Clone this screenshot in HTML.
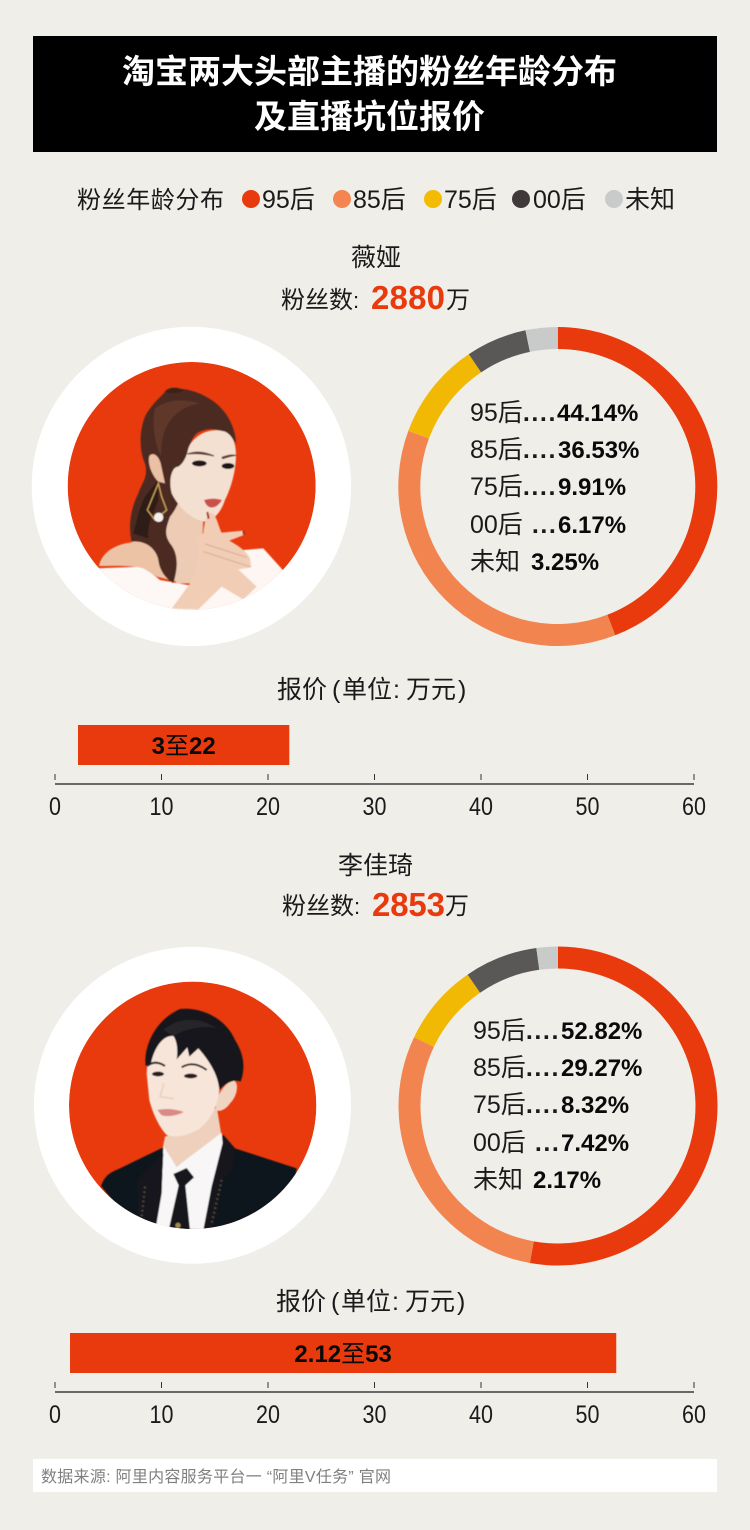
<!DOCTYPE html>
<html lang="zh">
<head>
<meta charset="utf-8">
<title>淘宝两大头部主播的粉丝年龄分布及直播坑位报价</title>
<style>
html,body{margin:0;padding:0;background:#efeee9;}
body{width:750px;height:1530px;overflow:hidden;}
svg{display:block;}
text{font-family:"Liberation Sans","Noto Sans CJK SC",sans-serif;fill:#1a1a1a;}
.cn{font-size:24px;}
.lg{font-size:25px;}
.dots{letter-spacing:1.6px;font-weight:700;}
.val{font-size:24px;font-weight:700;fill:#0a0a0a;}
.num{font-size:33px;font-weight:700;fill:#e93a0e;}
</style>
</head>
<body>
<svg id="page" xmlns="http://www.w3.org/2000/svg" width="750" height="1530" viewBox="0 0 750 1530">
  <defs>
    <clipPath id="clip-a"><circle cx="485" cy="498" r="372"/></clipPath>
    <clipPath id="clip-b"><circle cx="488" cy="496" r="371"/></clipPath>
    <filter id="soft" x="-10%" y="-10%" width="120%" height="120%"><feGaussianBlur stdDeviation="1.8"/></filter>
  </defs>
  <rect width="750" height="1530" fill="#efeee9"/>

  <g>
    <rect x="33" y="36" width="684" height="116" fill="#000"/>
    <text x="369.5" y="83" text-anchor="middle" font-size="33" font-weight="700" style="fill:#fff">淘宝两大头部主播的粉丝年龄分布</text>
    <text x="369.5" y="128" text-anchor="middle" font-size="33" font-weight="700" style="fill:#fff">及直播坑位报价</text>
  </g>

  <g>
    <text class="cn" x="77" y="208" textLength="147">粉丝年龄分布</text>
    <circle cx="251" cy="199" r="9" fill="#e93a0e"/>
    <text class="lg" x="262" y="208">95后</text>
    <circle cx="342" cy="199" r="9" fill="#f48550"/>
    <text class="lg" x="353" y="208">85后</text>
    <circle cx="433" cy="199" r="9" fill="#f3bb02"/>
    <text class="lg" x="444" y="208">75后</text>
    <circle cx="521" cy="199" r="9" fill="#3f3a39"/>
    <text class="lg" x="533" y="208">00后</text>
    <circle cx="614" cy="199" r="9" fill="#c9caca"/>
    <text class="lg" x="625" y="208">未知</text>
  </g>

  <!-- Section 1 -->
  <text class="lg" x="376" y="266" text-anchor="middle">薇娅</text>
  <text class="cn" x="281" y="308">粉丝数<tspan font-size="22">:</tspan></text>
  <text class="num" x="371" y="309" textLength="74">2880</text>
  <text class="cn" x="446" y="308">万</text>

  <g>
    <circle cx="191.4" cy="486.4" r="159.7" fill="#fff"/>
    <g transform="translate(30,320) scale(0.33333)">
      <g clip-path="url(#clip-a)">
        <circle cx="485" cy="498" r="372" fill="#e93a0e"/>
        <g filter="url(#soft)">
          <path d="M195 745 L340 740 L390 780 L500 800 L520 880 L300 900 L150 800Z" fill="#fdf8f5"/>
          <path d="M640 690 L700 685 L760 752 L700 830 L600 880 L500 880 L560 790Z" fill="#fdf6f2"/>
          <path d="M207 738 C215 700 250 675 300 668 L355 652 L420 700 L440 785 L380 770 L340 745 C300 735 250 738 207 738Z" fill="#edc3a6"/>
          <path d="M420 530 L400 620 L400 720 L440 790 L510 790 L520 600Z" fill="#eecbb4"/>
          <path d="M430 205 C500 205 560 240 590 285 C610 315 618 350 618 370 C590 330 540 315 500 340 C480 360 470 400 465 440 C470 500 445 560 420 590 C410 620 400 640 420 670 C445 700 445 740 430 790 C415 780 390 760 385 720 C380 690 350 660 305 665 C295 620 300 570 325 520 C340 480 355 470 345 430 C330 400 325 340 345 290 C365 250 400 225 405 215 Z" fill="#4b2b20"/>
          <path d="M375 265 C410 240 455 235 510 250 C470 255 425 280 405 330 C392 365 392 395 395 410 C375 380 365 310 375 265Z" fill="#5f392b"/>
          <path d="M405 215 C415 200 445 200 462 212 C440 222 420 222 405 215Z" fill="#3a2018"/>
          <path d="M310 640 C320 600 330 560 345 530 L385 480 L385 540 C365 590 350 620 355 655Z" fill="#2f1b14"/>
          <path d="M358 408 C368 395 385 405 392 430 L405 490 L385 485 C365 465 352 430 358 408Z" fill="#ecc0a4"/>
          <path d="M475 385 C490 345 540 320 585 335 C605 345 618 365 618 405 C618 450 605 500 585 540 C572 580 550 600 525 605 C490 600 450 570 425 520 C415 480 425 440 445 440 C460 430 470 410 475 385Z" fill="#f4e0d1"/>
          <path d="M472 402 Q510 388 552 408 Q510 398 472 402Z M576 412 Q600 402 618 406 Q600 408 578 416Z" fill="#5a3a30" stroke="#5a3a30" stroke-width="3"/>
          <ellipse cx="508" cy="430" rx="22" ry="9" fill="#1c1518"/>
          <ellipse cx="594" cy="438" rx="19" ry="9" fill="#1c1518"/>
          <path d="M522 540 Q550 532 576 540 Q560 566 540 562 Q528 558 522 540Z" fill="#c9514a"/>
          <path d="M520 640 C522 610 530 580 545 578 C560 585 565 620 575 638 L640 632 L642 645 L598 662 C630 680 650 695 660 715 L664 742 L625 748 L680 800 L640 838 L575 800 L505 868 L425 866 L480 790 C500 750 505 720 505 700 L498 650Z" fill="#f1cdb6"/>
          <path d="M525 672 L650 712 M520 695 L660 740" stroke="#d8a78f" stroke-width="3" fill="none"/>
          <path d="M640 632 L642 645 M532 576 L536 596" stroke="#a8262a" stroke-width="6"/>
          <path d="M385 490 L352 570 L375 600 L410 570 L395 530Z" fill="none" stroke="#c9a35a" stroke-width="4"/>
          <circle cx="386" cy="592" r="14" fill="#f5f1ec"/>
        </g>
      </g>
    </g>
  </g>

  <g id="donut-viya"></g>
  <g>
    <text class="lg" x="470" y="421">95后<tspan class="dots">....</tspan></text>
    <text class="val" x="557" y="421">44.14%</text>
    <text class="lg" x="470" y="458">85后<tspan class="dots">....</tspan></text>
    <text class="val" x="558" y="458">36.53%</text>
    <text class="lg" x="470" y="495">75后<tspan class="dots">....</tspan></text>
    <text class="val" x="558" y="495">9.91%</text>
    <text class="lg" x="470" y="533">00后<tspan class="dots" dx="9">...</tspan></text>
    <text class="val" x="558" y="533">6.17%</text>
    <text class="lg" x="470" y="570">未知</text>
    <text class="val" x="531" y="570">3.25%</text>
  </g>

  <text class="lg" y="698"><tspan x="277">报价</tspan><tspan x="332">(</tspan><tspan x="342">单位</tspan><tspan x="393">:</tspan><tspan x="406">万元</tspan><tspan x="458">)</tspan></text>
  <g id="price-viya"></g>

  <!-- Section 2 -->
  <text class="lg" x="375.5" y="874" text-anchor="middle">李佳琦</text>
  <text class="cn" x="282" y="914">粉丝数<tspan font-size="22">:</tspan></text>
  <text class="num" x="372" y="916" textLength="73">2853</text>
  <text class="cn" x="445" y="914">万</text>

  <g>
    <circle cx="192.5" cy="1105.3" r="158.5" fill="#fff"/>
    <g transform="translate(30,940) scale(0.33333)">
      <g clip-path="url(#clip-b)">
        <circle cx="488" cy="496" r="371" fill="#e93a0e"/>
        <g filter="url(#soft)">
          <path d="M405 590 L398 625 L440 690 L575 590 L560 500 L500 560Z" fill="#eed0bc"/>
          <path d="M213 738 C225 705 240 698 270 685 L400 622 L440 680 L580 585 L615 625 L800 685 L790 760 L680 840 L520 875 L380 870 L280 820Z" fill="#10151a"/>
          <path d="M400 618 L440 680 L575 578 L578 610 L545 740 L520 870 L378 860 L395 760Z" fill="#f8f6f6"/>
          <path d="M430 702 L470 684 L492 712 L466 736 L480 870 L416 870 L446 736Z" fill="#15181c"/>
          <path d="M400 640 L320 720 L325 830 L378 850 L395 740Z" fill="#14191e"/>
          <path d="M580 585 L615 625 L605 690 L580 720 L550 860 L522 868 L545 740 L578 610Z" fill="#14191e"/>
          <path d="M345 740 L335 830 M575 720 L545 850" stroke="#4c4538" stroke-width="7" stroke-dasharray="5 9" fill="none"/>
          <circle cx="444" cy="856" r="8" fill="#a18a4e"/>
          <path d="M555 490 C570 450 590 425 612 422 C628 430 622 470 600 490 C590 505 575 515 560 512Z" fill="#f0d4c2"/>
          <path d="M350 400 C352 340 380 285 430 285 C500 300 560 350 570 430 C568 480 552 530 510 565 C480 585 440 595 410 585 C385 560 365 510 358 480Z" fill="#f7e5d9"/>
          <path d="M347 378 C340 320 375 240 450 207 C520 200 590 240 615 300 C640 340 648 380 632 425 C615 418 590 425 568 450 C565 410 545 370 505 325 L478 350 L472 322 L440 358 C445 330 440 300 430 288 C395 285 370 330 362 375Z" fill="#14161b"/>
          <path d="M400 270 C440 235 500 225 560 265 C520 255 470 265 430 288Z" fill="#26272c"/>
          <path d="M352 378 Q375 358 405 378 M455 382 Q490 360 530 390" stroke="#2a2023" stroke-width="6" fill="none"/>
          <ellipse cx="384" cy="402" rx="18" ry="7" fill="#2a1e1e"/>
          <ellipse cx="482" cy="408" rx="20" ry="7" fill="#2a1e1e"/>
          <path d="M382 510 Q420 502 462 516 Q425 534 395 526Z" fill="#d98a86"/>
          <path d="M402 430 L390 470 L432 476" stroke="#e8cdbc" stroke-width="4" fill="none"/>
        </g>
      </g>
    </g>
  </g>

  <g id="donut-li"></g>
  <g>
    <text class="lg" x="473" y="1039">95后<tspan class="dots">....</tspan></text>
    <text class="val" x="561" y="1039">52.82%</text>
    <text class="lg" x="473" y="1076">85后<tspan class="dots">....</tspan></text>
    <text class="val" x="561" y="1076">29.27%</text>
    <text class="lg" x="473" y="1113">75后<tspan class="dots">....</tspan></text>
    <text class="val" x="561" y="1113">8.32%</text>
    <text class="lg" x="473" y="1151">00后<tspan class="dots" dx="9">...</tspan></text>
    <text class="val" x="561" y="1151">7.42%</text>
    <text class="lg" x="473" y="1188">未知</text>
    <text class="val" x="533" y="1188">2.17%</text>
  </g>

  <text class="lg" y="1310"><tspan x="276">报价</tspan><tspan x="331">(</tspan><tspan x="341">单位</tspan><tspan x="392">:</tspan><tspan x="405">万元</tspan><tspan x="457">)</tspan></text>
  <g id="price-li"></g>

  <g>
    <rect x="33" y="1459" width="684" height="33" fill="#fff"/>
    <text x="41" y="1482" font-size="16" textLength="350" style="fill:#808080">数据来源: 阿里内容服务平台一 “阿里V任务” 官网</text>
  </g>
</svg>
<script>
var ageGroups = ['95后', '85后', '75后', '00后', '未知'];
var ageColors = ['#e93a0e', '#f28450', '#f1b904', '#5a5856', '#c9caca'];
var viyaShares = [44.14, 36.53, 9.91, 6.17, 3.25];
var liShares = [52.82, 29.27, 8.32, 7.42, 2.17];
var priceTicks = [0, 10, 20, 30, 40, 50, 60];
var viyaPriceRange = [2.16, 22];
var liPriceRange = [1.41, 52.7];
var viyaPriceLabel = ['3', '至', '22'];
var liPriceLabel = ['2.12', '至', '53'];

var SVG_NS = 'http://www.w3.org/2000/svg';

function arcPath(cx, cy, rOuter, rInner, a0, a1) {
  var large = (a1 - a0) > Math.PI ? 1 : 0;
  function pt(r, a) { return (cx + r * Math.sin(a)).toFixed(2) + ' ' + (cy - r * Math.cos(a)).toFixed(2); }
  return 'M' + pt(rOuter, a0) + ' A' + rOuter + ' ' + rOuter + ' 0 ' + large + ' 1 ' + pt(rOuter, a1) +
         ' L' + pt(rInner, a1) + ' A' + rInner + ' ' + rInner + ' 0 ' + large + ' 0 ' + pt(rInner, a0) + 'Z';
}

function drawDonut(groupId, values, cx, cy, rOuter, rInner) {
  var group = document.getElementById(groupId);
  var total = values.reduce(function (s, v) { return s + v; }, 0);
  var angle = 0;
  values.forEach(function (v, i) {
    var sweep = v / total * Math.PI * 2;
    var slice = document.createElementNS(SVG_NS, 'path');
    slice.setAttribute('d', arcPath(cx, cy, rOuter, rInner, angle, angle + sweep));
    slice.setAttribute('fill', ageColors[i]);
    
    
    group.appendChild(slice);
    angle += sweep;
  });
}

function drawPrice(groupId, range, labelParts, axisY) {
  var group = document.getElementById(groupId);
  var x0 = 55, x1 = 694;
  var xScale = function (v) { return x0 + (v - priceTicks[0]) / (priceTicks[priceTicks.length - 1] - priceTicks[0]) * (x1 - x0); };

  var bar = document.createElementNS(SVG_NS, 'rect');
  bar.setAttribute('x', xScale(range[0]));
  bar.setAttribute('y', axisY - 59);
  bar.setAttribute('width', xScale(range[1]) - xScale(range[0]));
  bar.setAttribute('height', 40);
  bar.setAttribute('fill', '#e93a0e');
  
  
  group.appendChild(bar);

  var label = document.createElementNS(SVG_NS, 'text');
  label.setAttribute('x', (xScale(range[0]) + xScale(range[1])) / 2);
  label.setAttribute('y', axisY - 30);
  label.setAttribute('text-anchor', 'middle');
  label.setAttribute('font-size', '24');
  label.setAttribute('style', 'fill:#0a0a0a;');
  
  
  labelParts.forEach(function (part, i) {
    var span = document.createElementNS(SVG_NS, 'tspan');
    span.textContent = part;
    if (i !== 1) { span.setAttribute('font-weight', '700'); }
    label.appendChild(span);
  });
  group.appendChild(label);

  var axis = document.createElementNS(SVG_NS, 'line');
  axis.setAttribute('x1', x0);
  axis.setAttribute('x2', x1);
  axis.setAttribute('y1', axisY);
  axis.setAttribute('y2', axisY);
  axis.setAttribute('stroke', '#1a1a1a');
  axis.setAttribute('stroke-width', '1.3');
  
  
  group.appendChild(axis);

  priceTicks.forEach(function (t) {
    var x = xScale(t);
    var tick = document.createElementNS(SVG_NS, 'line');
    tick.setAttribute('x1', x);
    tick.setAttribute('x2', x);
    tick.setAttribute('y1', axisY - 10);
    tick.setAttribute('y2', axisY - 4);
    tick.setAttribute('stroke', '#333');
    tick.setAttribute('stroke-width', '1');
    
    
    group.appendChild(tick);

    var tickLabel = document.createElementNS(SVG_NS, 'text');
    tickLabel.setAttribute('x', x);
    tickLabel.setAttribute('y', axisY + 31);
    tickLabel.setAttribute('text-anchor', 'middle');
    tickLabel.setAttribute('font-size', '25');
    tickLabel.setAttribute('transform', 'translate(' + x + ' 0) scale(0.86 1) translate(' + (-x) + ' 0)');
    tickLabel.textContent = String(t);
    
    
    group.appendChild(tickLabel);
  });
}

drawDonut('donut-viya', viyaShares, 557.8, 486.5, 159.5, 137.5);
drawDonut('donut-li', liShares, 558, 1106, 159.5, 137.5);
drawPrice('price-viya', viyaPriceRange, viyaPriceLabel, 784);
drawPrice('price-li', liPriceRange, liPriceLabel, 1392);
</script>
</body>
</html>
